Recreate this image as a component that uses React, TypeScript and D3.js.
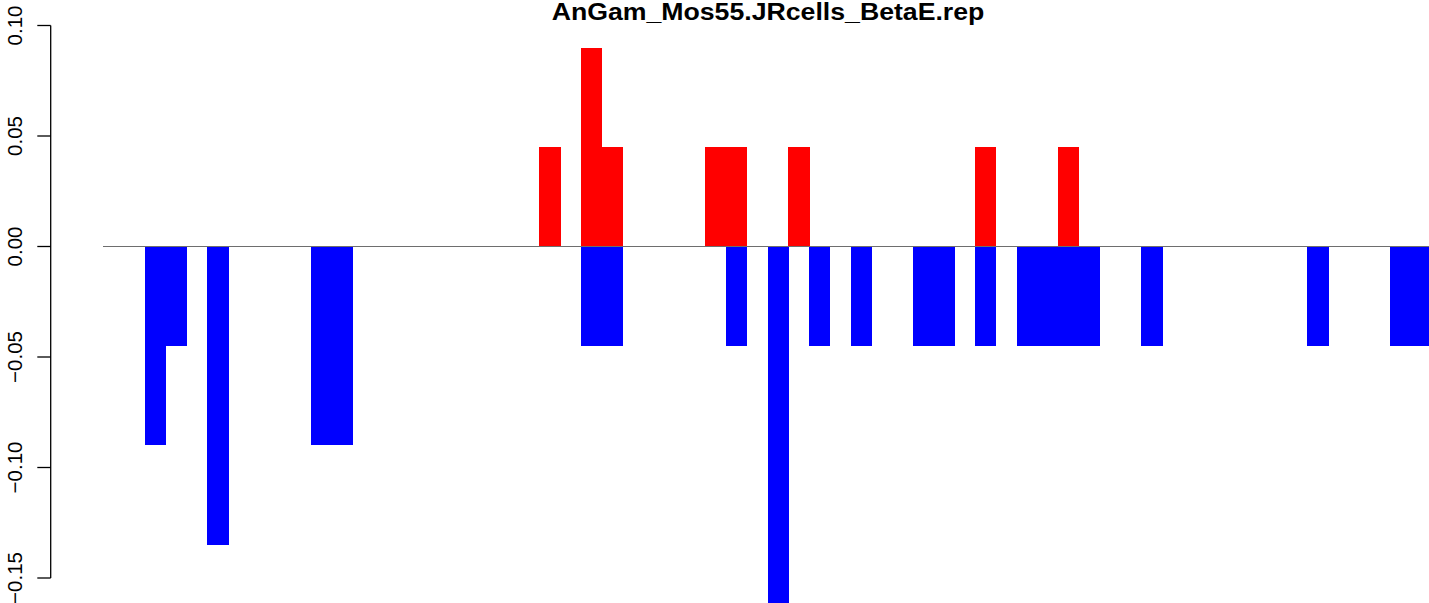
import React from "react";
import * as d3 from "d3";

const title = "AnGam_Mos55.JRcells_BetaE.rep";
const slotCount = 64;
const posIndex = [21, 23, 24, 29, 30, 33, 42, 46];
const posValue = [0.045, 0.09, 0.045, 0.045, 0.045, 0.045, 0.045, 0.045];
const negIndex = [2, 3, 5, 10, 11, 23, 24, 30, 32, 34, 36, 39, 40, 42, 44, 45, 46, 47, 50, 58, 62, 63];
const negValue = [-0.09, -0.045, -0.135, -0.09, -0.09, -0.045, -0.045, -0.045, -0.18, -0.045, -0.045, -0.045, -0.045, -0.045, -0.045, -0.045, -0.045, -0.045, -0.045, -0.045, -0.045, -0.045];
const yTicks = [-0.15, -0.1, -0.05, 0, 0.05, 0.1];
const yTickLabels = ["\u22120.15", "\u22120.10", "\u22120.05", "0.00", "0.05", "0.10"];

export default function App() {
  const W = 1429;
  const H = 603;
  const slots = d3.range(slotCount);
  const x = d3.scaleBand<number>().domain(slots).range([103.5, 103.5 + slotCount * 20.755]).padding(0);
  const y = d3.scaleLinear().domain([-0.15, 0.1]).range([578, 25.5]);
  const font = "'Liberation Sans', Arial, Helvetica, sans-serif";
  const pos = posIndex.map((i, k) => ({ i, v: posValue[k] }));
  const neg = negIndex.map((i, k) => ({ i, v: negValue[k] }));
  return (
    <svg width={W} height={H} style={{ position: "absolute", left: 0, top: 0, background: "#fff" }}>
      <rect x={0} y={0} width={W} height={H} fill="#fff" />
      <g shapeRendering="crispEdges">
        {pos.map((d) => (
          <rect key={"p" + d.i} x={x(d.i)} y={y(d.v)} width={x.bandwidth() + 0.5} height={y(0) - y(d.v)} fill="#FF0000" />
        ))}
        {neg.map((d) => (
          <rect key={"n" + d.i} x={x(d.i)} y={y(0)} width={x.bandwidth() + 0.5} height={y(d.v) - y(0)} fill="#0000FF" />
        ))}
      </g>
      <line x1={103} x2={W} y1={y(0)} y2={y(0)} stroke="#6e6e6e" strokeWidth={1} />
      <line x1={50.7} x2={50.7} y1={y(0.1)} y2={y(-0.15)} stroke="#000" strokeWidth={1.3} />
      {yTicks.map((t, k) => (
        <g key={"t" + k}>
          <line x1={37.3} x2={50.7} y1={y(t)} y2={y(t)} stroke="#000" strokeWidth={1.3} />
          <text
            transform={`translate(21.7, ${y(t)}) rotate(-90)`}
            textAnchor="middle"
            fontFamily={font}
            fontSize={20.5}
            fill="#000"
          >
            {yTickLabels[k]}
          </text>
        </g>
      ))}
      <text
        transform={`translate(768, 20) scale(1.16, 1)`}
        textAnchor="middle"
        fontFamily={font}
        fontWeight="bold"
        fontSize={23}
        fill="#000"
      >
        {title}
      </text>
    </svg>
  );
}
